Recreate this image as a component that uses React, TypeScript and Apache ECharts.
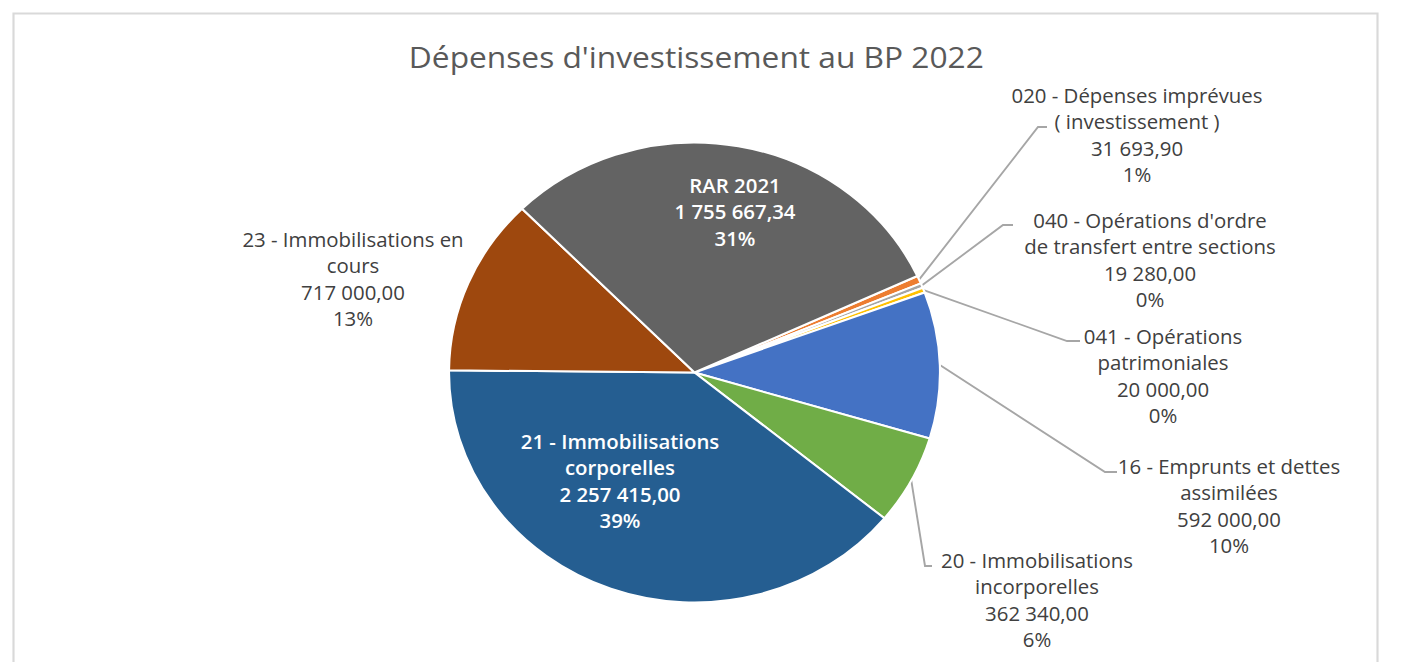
import React, { useEffect, useRef } from "react";
import * as echarts from "echarts";

const categories = [
  "020 - Dépenses imprévues ( investissement )",
  "040 - Opérations d'ordre de transfert entre sections",
  "041 - Opérations patrimoniales",
  "16 - Emprunts et dettes assimilées",
  "20 - Immobilisations incorporelles",
  "21 - Immobilisations corporelles",
  "23 - Immobilisations en cours",
  "RAR 2021",
];
const wrappedNames = [
  "020 - Dépenses imprévues\n( investissement )",
  "040 - Opérations d'ordre\nde transfert entre sections",
  "041 - Opérations\npatrimoniales",
  "16 - Emprunts et dettes\nassimilées",
  "20 - Immobilisations\nincorporelles",
  "21 - Immobilisations\ncorporelles",
  "23 - Immobilisations en\ncours",
  "RAR 2021",
];
const values = [31693.9, 19280, 20000, 592000, 362340, 2257415, 717000, 1755667.34];
const percentLabels = ["1%", "0%", "0%", "10%", "6%", "39%", "13%", "31%"];
const insideLabels = [false, false, false, false, false, true, false, true];
const colors = ["#ED7D31", "#A5A5A5", "#FFC000", "#4472C4", "#70AD47", "#255E91", "#9E480E", "#636363"];

// The reference picture is stretched horizontally: the chart is drawn
// in an unstretched space and scaled by SX with CSS.
const SX = 1.0674;
const W = 1402;
const H = 662;

// label layout (positions only, in page pixels)
const labelCenters: [number, number][] = [
  [1137, 135],
  [1150, 260],
  [1163, 376],
  [1229, 506],
  [1037, 600],
  [620, 481],
  [353, 279],
  [735, 212],
];
// [bendX, bendY, endX] for leader lines, null = none
const leaderBends: ([number, number, number] | null)[] = [
  [1038, 127, 1047],
  [1003, 225, 1013],
  [1067, 341, 1080],
  [1105, 472, 1117],
  [925, 566, 932],
  null,
  null,
  null,
];

const fmt = (v: number) => {
  const [i, d] = v.toFixed(2).split(".");
  return i.replace(/\B(?=(\d{3})+(?!\d))/g, "\u00a0") + "," + d;
};

const FONT = "'Open Sans', 'Noto Sans', sans-serif";

export default function App() {
  const ref = useRef<HTMLDivElement>(null);
  useEffect(() => {
    if (!ref.current) return;
    const chart = echarts.init(ref.current, undefined, { renderer: "svg" });
    const data = values.map((v, i) => ({
      name: categories[i],
      value: v,
      itemStyle: { color: colors[i] },
      label: insideLabels[i]
        ? { position: "inside", color: "#ffffff", fontWeight: 600 }
        : { position: "outside" },
      labelLine: { show: leaderBends[i] != null },
    }));
    chart.setOption({
      animation: false,
      backgroundColor: "#ffffff",
      title: {
        text: "Dépenses d'investissement au BP 2022",
        left: 691 / SX,
        top: 36,
        textAlign: "center",
        textStyle: { fontFamily: FONT, fontSize: 29.7, fontWeight: "normal", color: "#595959" },
      },
      graphic: [
        {
          type: "rect",
          shape: { x: 13.5 / SX, y: 13.5, width: 1364 / SX, height: 700 },
          style: { fill: "none", stroke: "#d9d9d9", lineWidth: 2 },
          silent: true,
        },
      ],
      series: [
        {
          type: "pie",
          center: [694.5 / SX, 372.5],
          radius: 230,
          startAngle: 24.8,
          clockwise: true,
          avoidLabelOverlap: false,
          itemStyle: { borderColor: "#ffffff", borderWidth: 2 },
          label: {
            fontFamily: FONT,
            fontSize: 19.1,
            lineHeight: 26.5,
            color: "#404040",
            align: "center",
            formatter: (p: any) =>
              `${wrappedNames[p.dataIndex]}\n${fmt(p.value)}\n${percentLabels[p.dataIndex]}`,
          },
          labelLine: {
            lineStyle: { color: "#a6a6a6", width: 1.8 },
          },
          labelLayout: (p: any) => {
            const i = p.dataIndex;
            const [cx, cy] = labelCenters[i];
            const out: any = { x: cx / SX, y: cy, align: "center", verticalAlign: "middle" };
            const b = leaderBends[i];
            if (b && p.labelLinePoints && p.labelLinePoints.length) {
              const start = p.labelLinePoints[0];
              out.labelLinePoints = [start, [b[0] / SX, b[1]], [b[2] / SX, b[1]]];
            }
            return out;
          },
          data,
        },
      ],
    });
    return () => chart.dispose();
  }, []);
  return (
    <div
      ref={ref}
      style={{
        position: "absolute",
        left: 0,
        top: 0,
        width: W / SX,
        height: H,
        transform: `scaleX(${SX})`,
        transformOrigin: "0 0",
      }}
    />
  );
}
